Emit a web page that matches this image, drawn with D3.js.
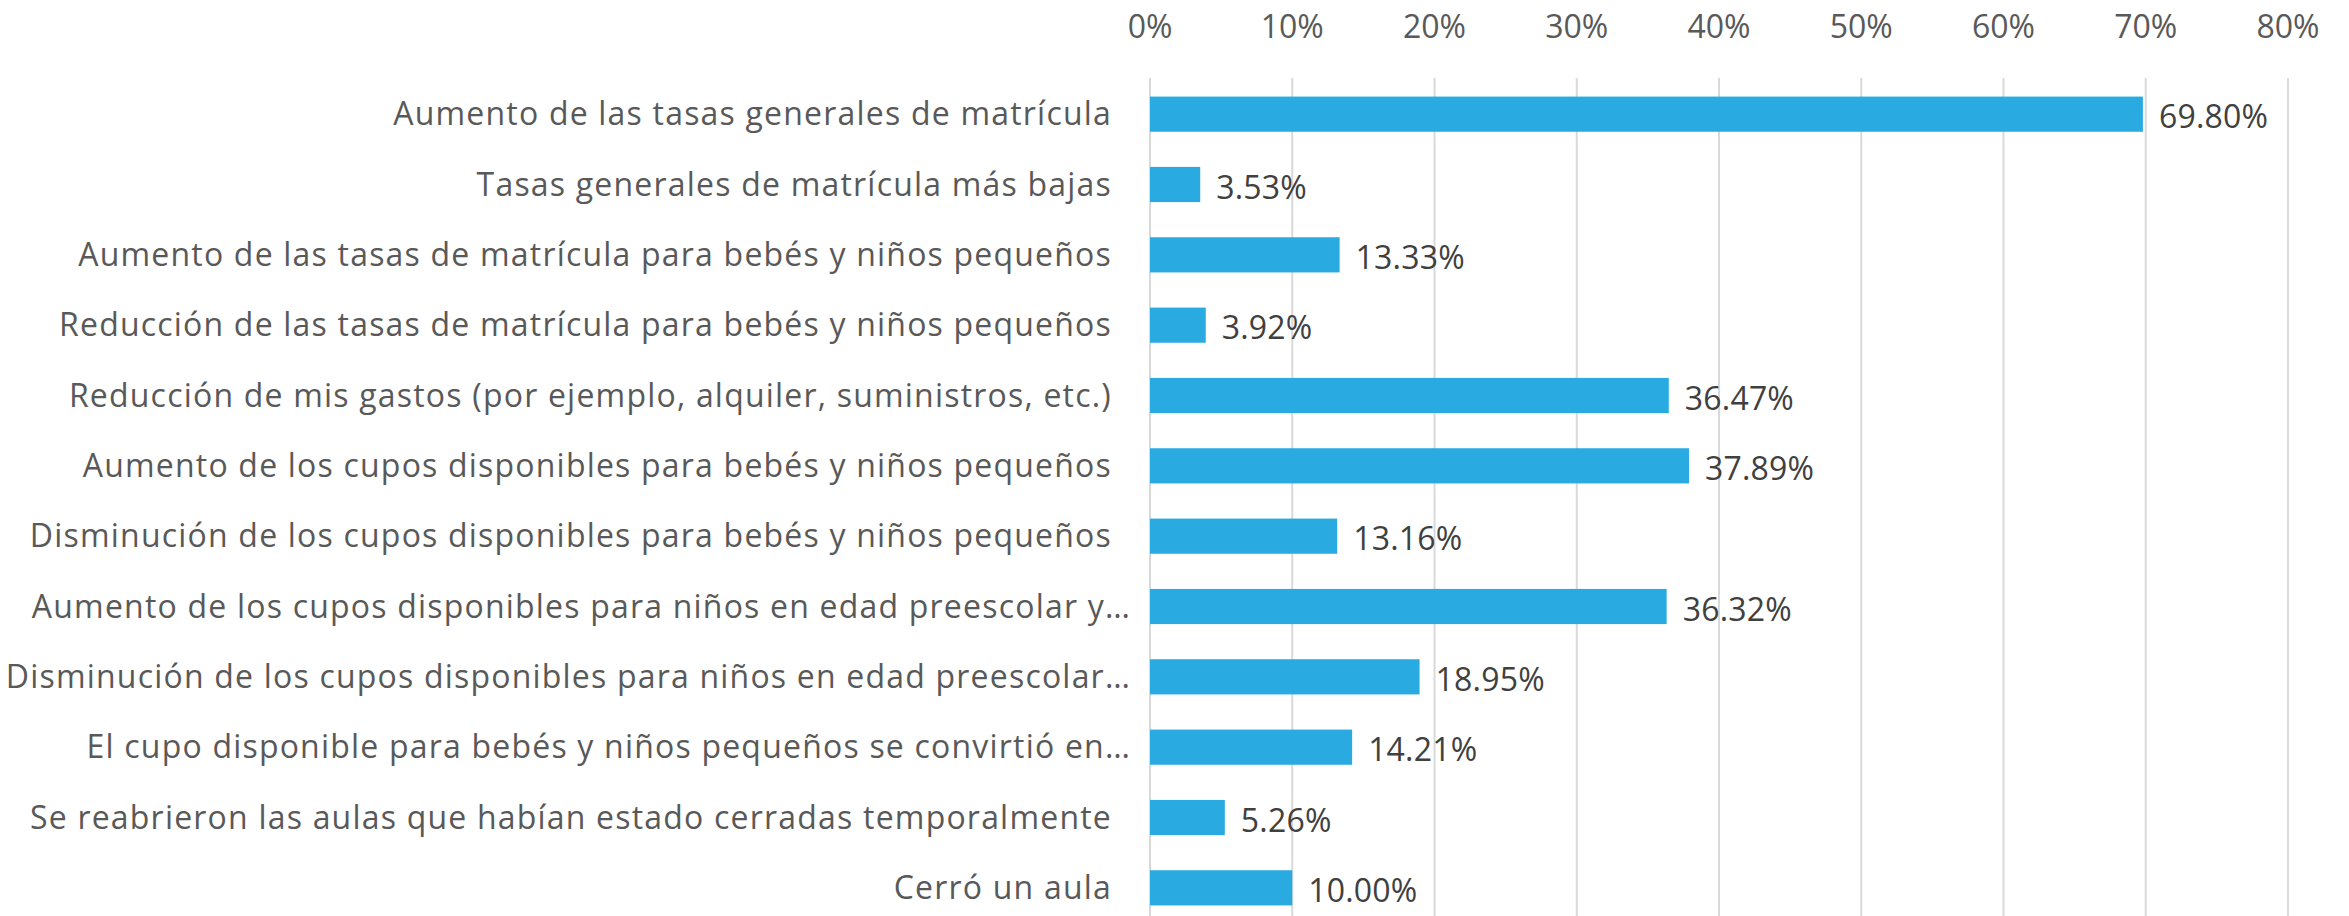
<!DOCTYPE html>
<html>
<head>
<meta charset="utf-8">
<script src="https://d3js.org/d3.v7.min.js"></script>
<style>
  body { margin: 0; background: #fff; }
  text { font-family: "Open Sans", "Noto Sans", sans-serif; }
</style>
</head>
<body>
<script>
// categories (top to bottom), values in percent
var categories = [
  "Aumento de las tasas generales de matrícula",
  "Tasas generales de matrícula más bajas",
  "Aumento de las tasas de matrícula para bebés y niños pequeños",
  "Reducción de las tasas de matrícula para bebés y niños pequeños",
  "Reducción de mis gastos (por ejemplo, alquiler, suministros, etc.)",
  "Aumento de los cupos disponibles para bebés y niños pequeños",
  "Disminución de los cupos disponibles para bebés y niños pequeños",
  "Aumento de los cupos disponibles para niños en edad preescolar y…",
  "Disminución de los cupos disponibles para niños en edad preescolar…",
  "El cupo disponible para bebés y niños pequeños se convirtió en…",
  "Se reabrieron las aulas que habían estado cerradas temporalmente",
  "Cerró un aula"
];
var values = [69.80, 3.53, 13.33, 3.92, 36.47, 37.89, 13.16, 36.32, 18.95, 14.21, 5.26, 10.00];
var ticks = [0, 10, 20, 30, 40, 50, 60, 70, 80];

var W = 2349, H = 916;
var svg = d3.select("body").append("svg").attr("width", W).attr("height", H);

var x = d3.scaleLinear().domain([0, 80]).range([1150, 2288]);
var y = d3.scaleBand().domain(categories).range([79, 923])
  .paddingInner(0.5).paddingOuter(0.25);

// gridlines
svg.append("g").selectAll("line").data(ticks).enter().append("line")
  .attr("x1", function(d) { return x(d); })
  .attr("x2", function(d) { return x(d); })
  .attr("y1", 78).attr("y2", H)
  .attr("stroke", "#d9d9d9").attr("stroke-width", 2);

// top axis labels
svg.append("g").selectAll("text").data(ticks).enter().append("text")
  .attr("x", function(d) { return x(d); })
  .attr("y", 27).attr("dy", "0.35em")
  .attr("text-anchor", "middle")
  .attr("font-size", 32).attr("fill", "#595959")
  .text(function(d) { return d + "%"; });

var data = categories.map(function(c, i) { return {cat: c, val: values[i]}; });

// bars
svg.append("g").selectAll("rect").data(data).enter().append("rect")
  .attr("x", x(0))
  .attr("y", function(d) { return y(d.cat); })
  .attr("width", function(d) { return x(d.val) - x(0); })
  .attr("height", y.bandwidth())
  .attr("fill", "#29abe2");

// category labels
svg.append("g").selectAll("text").data(data).enter().append("text")
  .attr("x", function(d) { return d.cat.slice(-1) === "…" ? 1131 : 1112; })
  .attr("y", function(d) { return y(d.cat) + y.bandwidth() / 2; })
  .attr("dy", "0.35em")
  .attr("text-anchor", "end")
  .attr("font-size", 32).attr("letter-spacing", 1.2).attr("fill", "#595959")
  .text(function(d) { return d.cat; });

// value labels
svg.append("g").selectAll("text").data(data).enter().append("text")
  .attr("x", function(d) { return x(d.val) + 16; })
  .attr("y", function(d) { return y(d.cat) + y.bandwidth() / 2 + 3; })
  .attr("dy", "0.35em")
  .attr("font-size", 32).attr("letter-spacing", 0.2).attr("fill", "#404040")
  .text(function(d) { return d.val.toFixed(2) + "%"; });
</script>
</body>
</html>
